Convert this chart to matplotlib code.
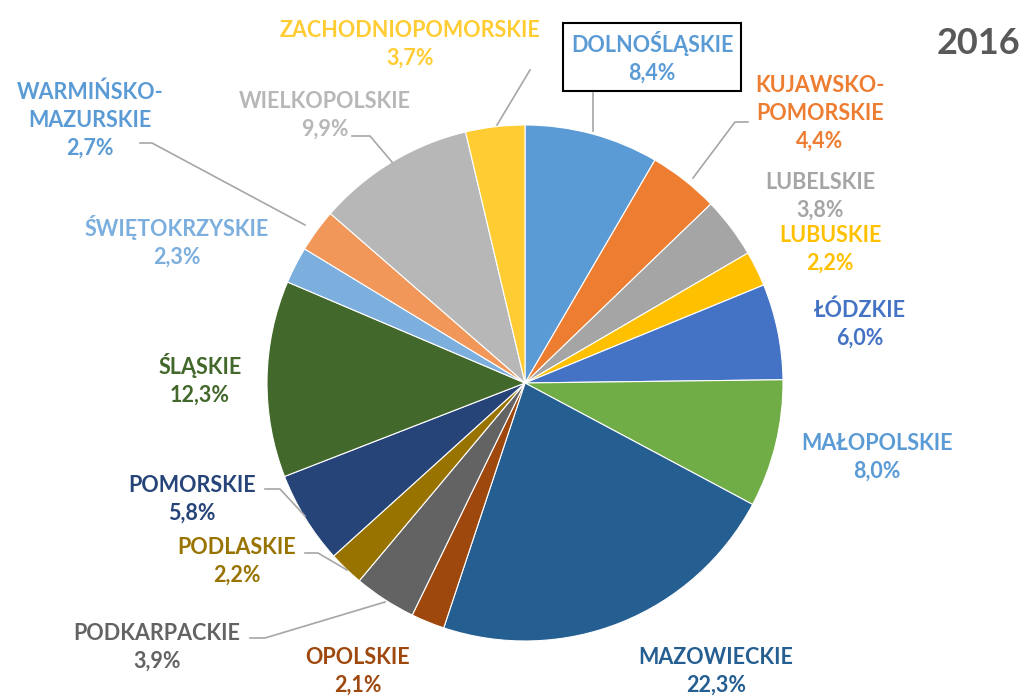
import matplotlib.pyplot as plt

# regions clockwise from the top
regions = ["DOLNOŚLĄSKIE", "KUJAWSKO-\nPOMORSKIE", "LUBELSKIE", "LUBUSKIE",
           "ŁÓDZKIE", "MAŁOPOLSKIE", "MAZOWIECKIE", "OPOLSKIE",
           "PODKARPACKIE", "PODLASKIE", "POMORSKIE", "ŚLĄSKIE",
           "ŚWIĘTOKRZYSKIE", "WARMIŃSKO-\nMAZURSKIE", "WIELKOPOLSKIE",
           "ZACHODNIOPOMORSKIE"]
shares = [8.4, 4.4, 3.8, 2.2, 6.0, 8.0, 22.3, 2.1, 3.9, 2.2, 5.8, 12.3,
          2.3, 2.7, 9.9, 3.7]
year = "2016"

colors = ["#5B9BD5", "#ED7D31", "#A5A5A5", "#FFC000", "#4472C4", "#70AD47",
          "#255E91", "#9E480E", "#636363", "#997300", "#264478", "#43682B",
          "#7CAFDD", "#F1975A", "#B7B7B7", "#FFCD33"]
label_colors = colors.copy()
label_colors[5] = "#5B9BD5"   # excel kept the blue for these two
label_colors[13] = "#5B9BD5"

# label centres in pixels (x, y from top)
label_pos = [(652, 57), (820, 113), (820, 196), (830, 249), (860, 324),
             (877, 457), (716, 671), (358, 671), (157, 647), (237, 561),
             (192, 499), (200, 379), (177, 241), (90, 120), (325, 115),
             (410, 44)]

# leader lines (pixels from top)
leaders = [
    [(593, 93), (593, 131)],
    [(748, 122), (735, 122), (693, 178)],
    [(352, 136), (370, 136), (392, 162)],
    [(530, 70), (497, 125)],
    [(140, 143), (152, 143), (305, 225)],
    [(265, 489), (280, 489), (305, 516)],
    [(305, 553), (318, 553), (347, 570)],
    [(250, 638), (265, 638), (385, 602)],
]

H = 697
fig = plt.figure(figsize=(10.24, 6.97), dpi=100)
ax = fig.add_axes([0, 0, 1, 1])

ax.pie(shares, colors=colors, startangle=90, counterclock=False,
       center=(525, H - 383), radius=258,
       wedgeprops=dict(edgecolor="white", linewidth=0.8))
ax.set_xlim(0, 1024)
ax.set_ylim(0, H)
ax.set_aspect("equal")
ax.axis("off")

for pts in leaders:
    xs = [p[0] for p in pts]
    ys = [H - p[1] for p in pts]
    ax.plot(xs, ys, color="#A6A6A6", lw=1.2, zorder=1)

font = "Lato"
for i, (name, val) in enumerate(zip(regions, shares)):
    x, y = label_pos[i]
    txt = f"{name}\n{val:.1f}%".replace(".", ",")
    bbox = None
    if i == 0:
        bbox = dict(boxstyle="square,pad=0.35", fc="white", ec="black", lw=1.5)
    ax.text(x, H - y, txt, ha="center", va="center", color=label_colors[i],
            fontsize=15.5, fontweight="bold", family=font, linespacing=1.4,
            bbox=bbox, zorder=5)

ax.text(978, H - 43, year, ha="center", va="center", color="#595959",
        fontsize=26, fontweight="bold", family=font)

fig.savefig("out.png", dpi=100)
